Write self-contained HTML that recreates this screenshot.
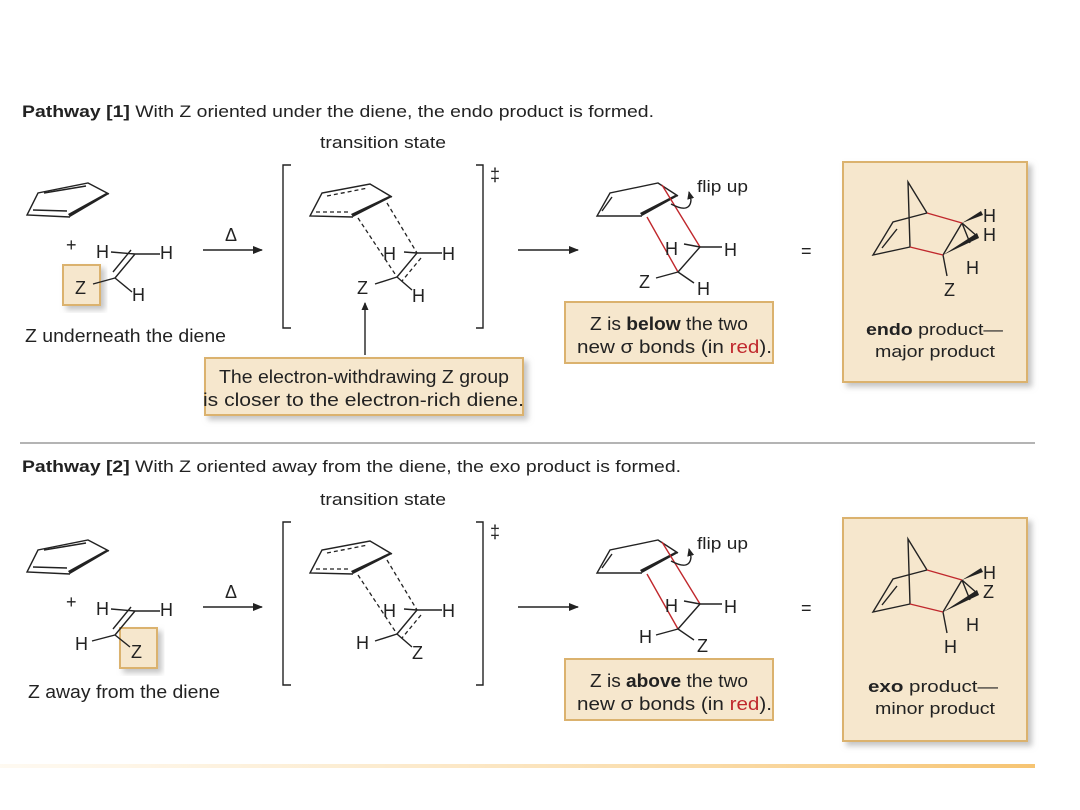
<!DOCTYPE html>
<html><head><meta charset="utf-8"><style>
body{margin:0;background:#fff}
svg{display:block}
text{font-family:"Liberation Sans",sans-serif;font-size:18px;fill:#222}
.s{font-size:17px}
.l{stroke:#222;stroke-width:1.4;fill:none}
.d{stroke:#222;stroke-width:1.3;fill:none;stroke-dasharray:4 3}
.r{stroke:#c0282d;stroke-width:1.4;fill:none}
.box{fill:#f6e7cd;stroke:#dbb26e;stroke-width:2}
</style></head><body>
<svg width="1080" height="810" viewBox="0 0 1080 810">
<defs>
<marker id="ah" markerWidth="10" markerHeight="8" refX="9" refY="4" orient="auto" markerUnits="userSpaceOnUse"><path d="M0,0 L10,4 L0,8 z" fill="#222"/></marker>
<marker id="ah2" markerWidth="8" markerHeight="7" refX="7" refY="3.5" orient="auto" markerUnits="userSpaceOnUse"><path d="M0,0 L8,3.5 L0,7 z" fill="#222"/></marker>
<filter id="sh" x="-10%" y="-10%" width="130%" height="130%"><feDropShadow dx="4" dy="4" stdDeviation="3" flood-color="#888" flood-opacity="0.5"/></filter>
<linearGradient id="gl" x1="0" x2="1"><stop offset="0" stop-color="#fbe3b8" stop-opacity="0.2"/><stop offset="1" stop-color="#f6c472"/></linearGradient>
</defs>

<!-- ===== Pathway 1 ===== -->
<text x="22" y="117" class="s" textLength="632" lengthAdjust="spacingAndGlyphs"><tspan font-weight="bold">Pathway [1]</tspan> With Z oriented under the diene, the endo product is formed.</text>
<text x="320" y="148" class="s" textLength="126" lengthAdjust="spacingAndGlyphs">transition state</text>

<path class="l" d="M70,217 L27,215 L38,193 L88,183 L109,194"/>
<path class="l" d="M44,193 L86,186 M33,210 L67,211"/>
<path d="M70,217 L109,194 L106,193 L68,214z" fill="#222"/>
<text x="66" y="251" font-size="21">+</text>
<rect x="63" y="265" width="37" height="40" class="box" filter="url(#sh)"/>
<text x="96" y="258">H</text>
<path class="l" d="M111,252 L135,254 L160,254 M135,254 L115,278 M131,250 L113,272 M115,278 L93,284 M115,278 L132,292"/>
<text x="160" y="259">H</text>
<text x="75" y="294">Z</text>
<text x="132" y="301">H</text>
<text x="25" y="342" textLength="201" lengthAdjust="spacingAndGlyphs">Z underneath the diene</text>

<text x="225" y="241">Δ</text>
<line x1="203" y1="250" x2="262" y2="250" class="l" marker-end="url(#ah)"/>

<path class="l" d="M291,165 L283,165 L283,328 L291,328 M476,165 L483,165 L483,328 L476,328"/>
<text x="490" y="181">‡</text>

<path class="l" d="M353,217 L310,216 L322,193 L370,184 L392,197"/>
<path class="d" d="M327,196 L368,188 M316,212 L350,212"/>
<path d="M353,217 L392,197 L389,196 L351,214z" fill="#222"/>
<path class="d" d="M358,218 L397,277 M387,203 L417,253"/>
<path class="l" d="M404,252 L417,253 L442,253 M417,253 L397,277 M397,277 L375,284 M397,277 L412,290"/>
<path class="d" d="M421,258 L402,281"/>
<text x="383" y="260">H</text>
<text x="442" y="260">H</text>
<text x="357" y="294">Z</text>
<text x="412" y="302">H</text>
<line x1="365" y1="355" x2="365" y2="303" class="l" marker-end="url(#ah2)"/>
<rect x="205" y="358" width="318" height="57" class="box" filter="url(#sh)"/>
<text x="219" y="383" textLength="290" lengthAdjust="spacingAndGlyphs">The electron-withdrawing Z group</text>
<text x="203" y="406" textLength="321" lengthAdjust="spacingAndGlyphs">is closer to the electron-rich diene.</text>

<line x1="518" y1="250" x2="578" y2="250" class="l" marker-end="url(#ah)"/>

<path class="l" d="M642,216 L597,216 L610,193 L658,183 L678,196"/>
<path class="l" d="M602,211 L612,197"/>
<path d="M642,216 L678,196 L675,195 L640,213z" fill="#222"/>
<path class="r" d="M647,217 L678,272 M662,185 L700,247"/>
<path class="l" d="M684,244 L700,247 L722,247 M700,247 L678,272 M678,272 L656,278 M678,272 L694,283"/>
<path class="l" d="M671,204 Q690,214 691,200 L689,192" marker-end="url(#ah2)"/>
<text x="697" y="192" class="s" textLength="51" lengthAdjust="spacingAndGlyphs">flip up</text>
<text x="665" y="255">H</text>
<text x="724" y="256">H</text>
<text x="639" y="288">Z</text>
<text x="697" y="295">H</text>
<rect x="565" y="302" width="208" height="61" class="box"/>
<text x="590" y="330" textLength="158" lengthAdjust="spacingAndGlyphs">Z is <tspan font-weight="bold">below</tspan> the two</text>
<text x="577" y="353" textLength="195" lengthAdjust="spacingAndGlyphs">new σ bonds (in <tspan fill="#c0282d">red</tspan>).</text>

<text x="801" y="257">=</text>

<rect x="843" y="162" width="184" height="220" class="box" filter="url(#sh)"/>
<path class="l" d="M927,213 L908,182 L910,247 M927,213 L893,222 L873,255 L910,247 M897,229 L882,248 M962,223 L943,255 M943,255 L947,276 M962,223 L978,237 M962,223 L970,243"/>
<path class="r" d="M927,213 L962,223 M910,247 L943,255"/>
<path d="M962,223 L981,211 L983,215z" fill="#222"/>
<path d="M943,255 L977,233 L979,238z" fill="#222"/>
<text x="983" y="222">H</text>
<text x="983" y="241">H</text>
<text x="966" y="274">H</text>
<text x="944" y="296">Z</text>
<text x="866" y="335" class="s" textLength="137" lengthAdjust="spacingAndGlyphs"><tspan font-weight="bold">endo</tspan> product—</text>
<text x="875" y="357" class="s" textLength="120" lengthAdjust="spacingAndGlyphs">major product</text>

<line x1="20" y1="443" x2="1035" y2="443" stroke="#888" stroke-width="1.3"/>

<!-- ===== Pathway 2 ===== -->
<text x="22" y="472" class="s" textLength="659" lengthAdjust="spacingAndGlyphs"><tspan font-weight="bold">Pathway [2]</tspan> With Z oriented away from the diene, the exo product is formed.</text>
<text x="320" y="505" class="s" textLength="126" lengthAdjust="spacingAndGlyphs">transition state</text>
<g transform="translate(0,357)">
<path class="l" d="M70,217 L27,215 L38,193 L88,183 L109,194"/>
<path class="l" d="M44,193 L86,186 M33,210 L67,211"/>
<path d="M70,217 L109,194 L106,193 L68,214z" fill="#222"/>
<text x="66" y="251" font-size="21">+</text>
<rect x="120" y="271" width="37" height="40" class="box" filter="url(#sh)"/>
<text x="96" y="258">H</text>
<path class="l" d="M111,252 L135,254 L160,254 M135,254 L115,278 M131,250 L113,272 M115,278 L92,284 M115,278 L130,290"/>
<text x="160" y="259">H</text>
<text x="75" y="293">H</text>
<text x="131" y="301">Z</text>
<text x="28" y="341" textLength="192" lengthAdjust="spacingAndGlyphs">Z away from the diene</text>

<text x="225" y="241">Δ</text>
<line x1="203" y1="250" x2="262" y2="250" class="l" marker-end="url(#ah)"/>
<path class="l" d="M291,165 L283,165 L283,328 L291,328 M476,165 L483,165 L483,328 L476,328"/>
<text x="490" y="181">‡</text>

<path class="l" d="M353,217 L310,216 L322,193 L370,184 L392,197"/>
<path class="d" d="M327,196 L368,188 M316,212 L350,212"/>
<path d="M353,217 L392,197 L389,196 L351,214z" fill="#222"/>
<path class="d" d="M358,218 L397,277 M387,203 L417,253"/>
<path class="l" d="M404,252 L417,253 L442,253 M417,253 L397,277 M397,277 L375,284 M397,277 L412,290"/>
<path class="d" d="M421,258 L402,281"/>
<text x="383" y="260">H</text>
<text x="442" y="260">H</text>
<text x="356" y="292">H</text>
<text x="412" y="302">Z</text>

<line x1="518" y1="250" x2="578" y2="250" class="l" marker-end="url(#ah)"/>

<path class="l" d="M642,216 L597,216 L610,193 L658,183 L678,196"/>
<path class="l" d="M602,211 L612,197"/>
<path d="M642,216 L678,196 L675,195 L640,213z" fill="#222"/>
<path class="r" d="M647,217 L678,272 M662,185 L700,247"/>
<path class="l" d="M684,244 L700,247 L722,247 M700,247 L678,272 M678,272 L656,278 M678,272 L694,283"/>
<path class="l" d="M671,204 Q690,214 691,200 L689,192" marker-end="url(#ah2)"/>
<text x="697" y="192" class="s" textLength="51" lengthAdjust="spacingAndGlyphs">flip up</text>
<text x="665" y="255">H</text>
<text x="724" y="256">H</text>
<text x="639" y="286">H</text>
<text x="697" y="295">Z</text>
<rect x="565" y="302" width="208" height="61" class="box"/>
<text x="590" y="330" textLength="158" lengthAdjust="spacingAndGlyphs">Z is <tspan font-weight="bold">above</tspan> the two</text>
<text x="577" y="353" textLength="195" lengthAdjust="spacingAndGlyphs">new σ bonds (in <tspan fill="#c0282d">red</tspan>).</text>

<text x="801" y="257">=</text>

<rect x="843" y="161" width="184" height="223" class="box" filter="url(#sh)"/>
<path class="l" d="M927,213 L908,182 L910,247 M927,213 L893,222 L873,255 L910,247 M897,229 L882,248 M962,223 L943,255 M943,255 L947,276 M962,223 L978,237 M962,223 L970,243"/>
<path class="r" d="M927,213 L962,223 M910,247 L943,255"/>
<path d="M962,223 L981,211 L983,215z" fill="#222"/>
<path d="M943,255 L977,233 L979,238z" fill="#222"/>
<text x="983" y="222">H</text>
<text x="983" y="241">Z</text>
<text x="966" y="274">H</text>
<text x="944" y="296">H</text>
<text x="868" y="335" class="s" textLength="130" lengthAdjust="spacingAndGlyphs"><tspan font-weight="bold">exo</tspan> product—</text>
<text x="875" y="357" class="s" textLength="120" lengthAdjust="spacingAndGlyphs">minor product</text>
</g>

<rect x="0" y="764" width="1035" height="4" fill="url(#gl)"/>
</svg>
</body></html>
